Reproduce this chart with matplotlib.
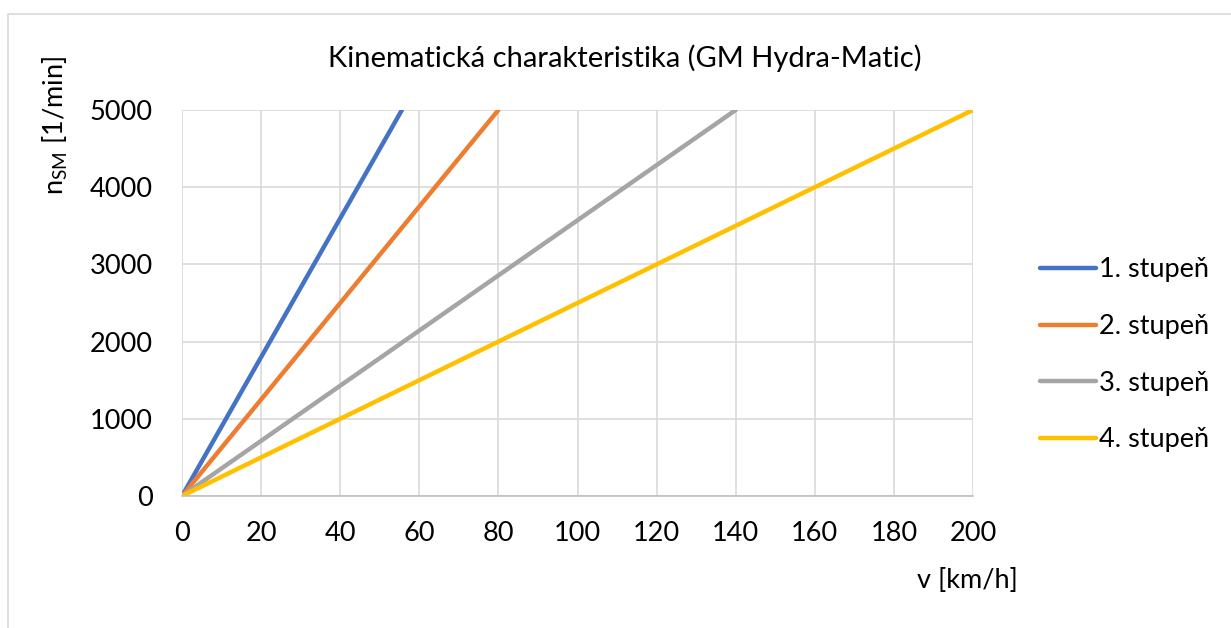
import matplotlib.pyplot as plt
from matplotlib.patches import Rectangle

plt.rcParams['font.family'] = ['Lato', 'DejaVu Sans']
plt.rcParams['mathtext.fontset'] = 'custom'
plt.rcParams['mathtext.rm'] = 'Lato'

# rychlost [km/h] a otacky [1/min] pro jednotlive stupne
v_1 = [0, 55.6]
v_2 = [0, 80]
v_3 = [0, 140]
v_4 = [0, 200]
n_sm = [0, 5000]
labels = ["1. stupeň", "2. stupeň", "3. stupeň", "4. stupeň"]
colors = ["#4472C4", "#ED7D31", "#A5A5A5", "#FFC000"]
x_ticks = list(range(0, 201, 20))
y_ticks = list(range(0, 5001, 1000))

fig = plt.figure(figsize=(12.31, 6.28), dpi=100)
fig.patches.append(Rectangle((8/1231, -0.5), 2, 1.5 - 14/628, transform=fig.transFigure,
                             fill=False, edgecolor="#d9d9d9", linewidth=1.2))
ax = fig.add_axes([182/1231, 1 - 496/628, (973-182)/1231, (496-110)/628])

for v, lab, c in zip([v_1, v_2, v_3, v_4], labels, colors):
    ax.plot(v, n_sm, color=c, linewidth=3.2, label=lab, solid_capstyle="round")

ax.set_xlim(0, 200)
ax.set_ylim(0, 5000)
ax.set_xticks(x_ticks)
ax.set_yticks(y_ticks)
ax.grid(True, color="#d9d9d9", linewidth=1.2)
ax.set_axisbelow(True)
for s in ["top", "right", "left"]:
    ax.spines[s].set_visible(False)
ax.spines["bottom"].set_color("#bfbfbf")
ax.spines["bottom"].set_linewidth(1.2)
ax.tick_params(length=0, labelsize=19.5)
ax.tick_params(axis="x", pad=18)
ax.tick_params(axis="y", pad=21)

fig.text(625/1231, 1 - 58/628, "Kinematická charakteristika (GM Hydra-Matic)",
         ha="center", va="center", fontsize=21)
fig.text(55/1231, 1 - 56/628, r"n$_{\mathrm{SM}}$ [1/min]", rotation=90,
         ha="center", va="top", fontsize=19.5)
fig.text(967/1231, 1 - 580/628, "v [km/h]", ha="center", va="center", fontsize=19.5)

ax.legend(loc="upper left", bbox_to_anchor=(1016/1231, 1 - 233/628),
          bbox_transform=fig.transFigure, frameon=False, fontsize=19.5,
          handlelength=2.05, handletextpad=0.1, labelspacing=1.17)

fig.savefig("out.png", dpi=100)
